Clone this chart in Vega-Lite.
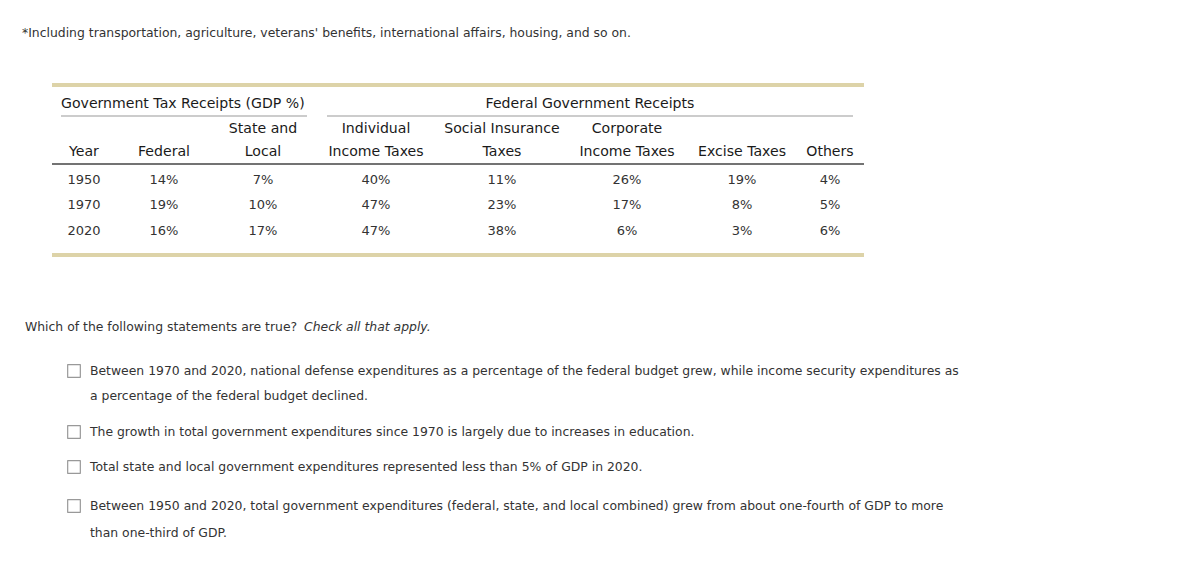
{
  "$schema": "https://vega.github.io/schema/vega-lite/v6.json",
  "width": 1200,
  "height": 572,
  "autosize": {"type": "fit", "contains": "padding"},
  "padding": 0,
  "background": "white",
  "config": {"view": {"stroke": null}},
  "datasets": {
    "leftText": [
      {"col": 0, "row": 0, "text": "*Including transportation, agriculture, veterans' benefits, international affairs, housing, and so on."},
      {"col": 1, "row": 11, "text": "Which of the following statements are true?"},
      {"col": 6, "row": 12, "text": "Between 1970 and 2020, national defense expenditures as a percentage of the federal budget grew, while income security expenditures as"},
      {"col": 6, "row": 13, "text": "a percentage of the federal budget declined."},
      {"col": 6, "row": 14, "text": "The growth in total government expenditures since 1970 is largely due to increases in education."},
      {"col": 6, "row": 15, "text": "Total state and local government expenditures represented less than 5% of GDP in 2020."},
      {"col": 6, "row": 16, "text": "Between 1950 and 2020, total government expenditures (federal, state, and local combined) grew from about one-fourth of GDP to more"},
      {"col": 6, "row": 17, "text": "than one-third of GDP."}
    ],
    "italicText": [
      {"col": 9, "row": 11, "text": "Check all that apply."}
    ],
    "tableTitle": [
      {"col": 3, "row": 2, "text": "Government Tax Receipts (GDP %)"}
    ],
    "headers": [
      {"col": 14, "row": 2, "text": "Federal Government Receipts"},
      {"col": 8, "row": 4, "text": "State and"},
      {"col": 12, "row": 4, "text": "Individual"},
      {"col": 13, "row": 4, "text": "Social Insurance"},
      {"col": 15, "row": 4, "text": "Corporate"},
      {"col": 5, "row": 5, "text": "Year"},
      {"col": 7, "row": 5, "text": "Federal"},
      {"col": 8, "row": 5, "text": "Local"},
      {"col": 12, "row": 5, "text": "Income Taxes"},
      {"col": 13, "row": 5, "text": "Taxes"},
      {"col": 15, "row": 5, "text": "Income Taxes"},
      {"col": 16, "row": 5, "text": "Excise Taxes"},
      {"col": 17, "row": 5, "text": "Others"}
    ],
    "cells": [
      {"col": 5, "row": 7, "text": "1950"},
      {"col": 7, "row": 7, "text": "14%"},
      {"col": 8, "row": 7, "text": "7%"},
      {"col": 12, "row": 7, "text": "40%"},
      {"col": 13, "row": 7, "text": "11%"},
      {"col": 15, "row": 7, "text": "26%"},
      {"col": 16, "row": 7, "text": "19%"},
      {"col": 17, "row": 7, "text": "4%"},
      {"col": 5, "row": 8, "text": "1970"},
      {"col": 7, "row": 8, "text": "19%"},
      {"col": 8, "row": 8, "text": "10%"},
      {"col": 12, "row": 8, "text": "47%"},
      {"col": 13, "row": 8, "text": "23%"},
      {"col": 15, "row": 8, "text": "17%"},
      {"col": 16, "row": 8, "text": "8%"},
      {"col": 17, "row": 8, "text": "5%"},
      {"col": 5, "row": 9, "text": "2020"},
      {"col": 7, "row": 9, "text": "16%"},
      {"col": 8, "row": 9, "text": "17%"},
      {"col": 12, "row": 9, "text": "47%"},
      {"col": 13, "row": 9, "text": "38%"},
      {"col": 15, "row": 9, "text": "6%"},
      {"col": 16, "row": 9, "text": "3%"},
      {"col": 17, "row": 9, "text": "6%"}
    ],
    "tanRules": [
      {"col": 2, "col2": 19, "row": 1},
      {"col": 2, "col2": 19, "row": 10}
    ],
    "grayRules": [
      {"col": 3, "col2": 10, "row": 3},
      {"col": 11, "col2": 18, "row": 3}
    ],
    "darkRules": [
      {"col": 2, "col2": 19, "row": 6}
    ],
    "boxes": [
      {"col": 4, "row": 12},
      {"col": 4, "row": 14},
      {"col": 4, "row": 15},
      {"col": 4, "row": 16}
    ]
  },
  "encoding": {
    "x": {
      "field": "col",
      "type": "quantitative",
      "axis": null,
      "scale": {
        "domain": [0, 1, 2, 3, 4, 5, 6, 7, 8, 9, 10, 11, 12, 13, 14, 15, 16, 17, 18, 19],
        "range": [22, 25, 52, 61, 74, 84, 90, 164, 263, 304, 307, 327, 376, 502, 590, 627, 742, 830, 853, 864],
        "nice": false,
        "zero": false
      }
    },
    "y": {
      "field": "row",
      "type": "quantitative",
      "axis": null,
      "scale": {
        "domain": [0, 1, 2, 3, 4, 5, 6, 7, 8, 9, 10, 11, 12, 13, 14, 15, 16, 17],
        "range": [33, 85, 104, 116, 129, 152, 164, 180, 205, 231, 255, 327, 371, 396, 432, 467, 506, 533],
        "nice": false,
        "zero": false
      }
    }
  },
  "layer": [
    {
      "data": {"name": "tanRules"},
      "mark": {"type": "rule", "color": "#ddd3a8", "strokeWidth": 4},
      "encoding": {"x2": {"field": "col2"}}
    },
    {
      "data": {"name": "grayRules"},
      "mark": {"type": "rule", "color": "#cccccc", "strokeWidth": 2},
      "encoding": {"x2": {"field": "col2"}}
    },
    {
      "data": {"name": "darkRules"},
      "mark": {"type": "rule", "color": "#444444", "strokeWidth": 1.5},
      "encoding": {"x2": {"field": "col2"}}
    },
    {
      "data": {"name": "boxes"},
      "mark": {"type": "point", "shape": "square", "filled": false, "size": 160, "stroke": "#999999", "strokeWidth": 1.2, "strokeJoin": "round", "opacity": 1},
      "encoding": {}
    },
    {
      "data": {"name": "leftText"},
      "mark": {"type": "text", "align": "left", "baseline": "middle", "font": "DejaVu Sans", "fontSize": 12.4, "color": "#333333"},
      "encoding": {"text": {"field": "text"}}
    },
    {
      "data": {"name": "italicText"},
      "mark": {"type": "text", "align": "left", "baseline": "middle", "font": "DejaVu Sans", "fontSize": 12.4, "fontStyle": "italic", "color": "#333333"},
      "encoding": {"text": {"field": "text"}}
    },
    {
      "data": {"name": "tableTitle"},
      "mark": {"type": "text", "align": "left", "baseline": "middle", "font": "DejaVu Sans", "fontSize": 14.1, "color": "#1a1a1a"},
      "encoding": {"text": {"field": "text"}}
    },
    {
      "data": {"name": "headers"},
      "mark": {"type": "text", "align": "center", "baseline": "middle", "font": "DejaVu Sans", "fontSize": 14.1, "color": "#1a1a1a"},
      "encoding": {"text": {"field": "text"}}
    },
    {
      "data": {"name": "cells"},
      "mark": {"type": "text", "align": "center", "baseline": "middle", "font": "DejaVu Sans", "fontSize": 13, "color": "#333333"},
      "encoding": {"text": {"field": "text"}}
    }
  ]
}
